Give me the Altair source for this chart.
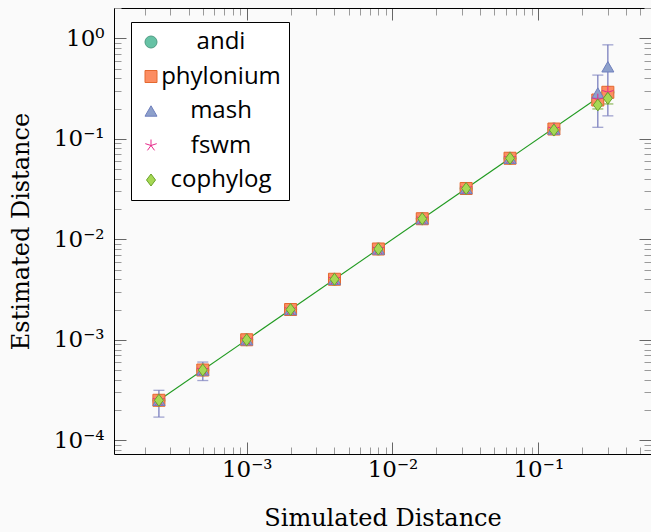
import json
import math
import altair as alt
import pandas as pd

# ---------------- data ----------------
methods = ["andi", "phylonium", "mash", "fswm", "cophylog"]
fill_colors = ["#66c2a5", "#fc8d62", "#8da0cb", "#e7298a", "#a6d854"]
stroke_colors = ["#4f9c83", "#e4682f", "#6f7fbd", "#e7298a", "#6aa32a"]

simulated = [0.00025, 0.0005, 0.001, 0.002, 0.004, 0.008, 0.016, 0.032, 0.064, 0.128, 0.256, 0.3]
andi_est = [0.00025, 0.0005, 0.001, 0.002, 0.004, 0.008, 0.016, 0.032, 0.064, 0.125, 0.243, 0.29]
phylonium_est = [0.00025, 0.0005, 0.001, 0.002, 0.004, 0.008, 0.016, 0.032, 0.064, 0.125, 0.243, 0.29]
mash_est = [0.00025, 0.0005, 0.001, 0.002, 0.004, 0.008, 0.016, 0.032, 0.064, 0.125, 0.285, 0.52]
fswm_est = [0.00025, 0.0005, 0.001, 0.002, 0.004, 0.008, 0.016, 0.032, 0.064, 0.125, 0.245, 0.29]
cophylog_est = [0.00025, 0.0005, 0.001, 0.002, 0.004, 0.008, 0.016, 0.032, 0.064, 0.122, 0.217, 0.253]

# error bars (visible ones)
err_method = ["mash", "mash", "mash", "mash", "cophylog", "cophylog"]
err_x = [0.00025, 0.0005, 0.256, 0.3, 0.256, 0.3]
err_lo = [0.00017, 0.000393, 0.13, 0.169, 0.198, 0.222]
err_hi = [0.000314, 0.0006, 0.43, 0.86, 0.235, 0.28]
err_colors = ["#7a7fbe", "#6aa32a"]

# reference line y = x
line_x = [0.00025, 0.256]

x_tick_values = [0.001, 0.01, 0.1]
x_tick_labels = ["10\u207b\u00b3", "10\u207b\u00b2", "10\u207b\u00b9"]
y_tick_values = [0.0001, 0.001, 0.01, 0.1, 1]
y_tick_labels = ["10\u207b\u2074", "10\u207b\u00b3", "10\u207b\u00b2", "10\u207b\u00b9", "10\u2070"]

x_domain = [1.23e-4, 0.593]
y_domain = [7.3e-5, 2.0]

# ---------------- tables ----------------
est = [andi_est, phylonium_est, mash_est, fswm_est, cophylog_est]
rows = []
for m, ys in zip(methods, est):
    for xv, yv in zip(simulated, ys):
        rows.append({"method": m, "sim": xv, "est": yv})
pts = pd.DataFrame(rows)

err = pd.DataFrame({"method": err_method, "sim": err_x, "lo": err_lo, "hi": err_hi})
caps = pd.concat([
    err[["method", "sim"]].assign(v=err["lo"]),
    err[["method", "sim"]].assign(v=err["hi"]),
])
line_df = pd.DataFrame({"sim": line_x, "est": line_x})

W, H = 537, 446

def minor_ticks(lo, hi):
    out = []
    e = -6
    while 10 ** e <= hi * 10:
        for k in range(1, 10):
            v = k * 10 ** e
            if lo <= v <= hi:
                out.append(float(f"{v:.6g}"))
        e += 1
    return out

x_all_ticks = minor_ticks(*x_domain)
y_all_ticks = minor_ticks(*y_domain)

MAJOR = "abs(log(datum.value)/LN10 - round(log(datum.value)/LN10)) < 0.001"
tick_size = {"condition": {"test": MAJOR, "value": 12}, "value": 7}
tick_color = {"condition": {"test": MAJOR, "value": "#666666"}, "value": "#9a9a9a"}

xscale = alt.Scale(type="log", domain=x_domain, nice=False)
yscale = alt.Scale(type="log", domain=y_domain, nice=False)

SERIF = "DejaVu Serif"

def lbl_expr(values, labels):
    e0 = round(math.log10(values[0]))
    return f"{json.dumps(labels, ensure_ascii=False)}[round(log(datum.value)/LN10) - ({e0})]"

x_label_axis = alt.Axis(values=x_tick_values, labelExpr=lbl_expr(x_tick_values, x_tick_labels),
                        ticks=False, domain=True, domainColor="black", domainWidth=1,
                        grid=False, labelFont=SERIF, labelFontSize=23, labelColor="black",
                        labelPadding=4, title="Simulated Distance", titleFont=SERIF,
                        titleFontSize=24, titleFontWeight="normal", titleColor="black",
                        titlePadding=25)
y_label_axis = alt.Axis(values=y_tick_values, labelExpr=lbl_expr(y_tick_values, y_tick_labels),
                        ticks=False, domain=True, domainColor="black", domainWidth=1,
                        grid=False, labelFont=SERIF, labelFontSize=23, labelColor="black",
                        labelPadding=10, title="Estimated Distance", titleFont=SERIF,
                        titleFontSize=24, titleFontWeight="normal", titleColor="black",
                        titlePadding=20)

def tick_axis(orient, offset, values, domain):
    kw = dict(orient=orient, offset=offset, values=values, labels=False, title=None,
              grid=False, domain=domain, tickSize=tick_size, tickColor=tick_color,
              tickWidth=1)
    if domain:
        kw.update(domainColor="black", domainWidth=1)
    return alt.Axis(**kw)

legend = alt.Legend(orient="none", legendX=17, legendY=14, title=None,
                    fillColor="white", strokeColor="black", padding=8,
                    labelFont="Open Sans", labelFontSize=24, labelColor="black",
                    labelAlign="center", labelOffset=58, symbolSize=144,
                    rowPadding=10.5, symbolStrokeWidth=1, symbolOpacity=1)

STAR = ("M0,0L0,-1M0,0L0.951,-0.309M0,0L0.588,0.809M0,0L-0.588,0.809"
        "M0,0L-0.951,-0.309")
DIAMOND = "M0,-1L0.75,0L0,1L-0.75,0Z"
shapes = ["circle", "square", "triangle-up", STAR, DIAMOND]

# ---------------- layers ----------------
errbars = alt.Chart(err).mark_rule(strokeWidth=1.3).encode(
    x=alt.X("sim:Q", scale=xscale, axis=tick_axis("top", -H, x_all_ticks, False)),
    y=alt.Y("lo:Q", scale=yscale, axis=tick_axis("right", -W, y_all_ticks, False)),
    y2="hi:Q",
    color=alt.Color("method:N", scale=alt.Scale(domain=["mash", "cophylog"], range=err_colors),
                    legend=None),
)

errcaps = alt.Chart(caps).mark_tick(orient="horizontal", size=11, thickness=1.3).encode(
    x=alt.X("sim:Q", scale=xscale, axis=tick_axis("bottom", -H, x_all_ticks, True)),
    y=alt.Y("v:Q", scale=yscale, axis=tick_axis("left", -W, y_all_ticks, False)),
    color=alt.Color("method:N", scale=alt.Scale(domain=["mash", "cophylog"], range=err_colors),
                    legend=None),
)

line = alt.Chart(line_df).mark_line(color="#1f9a1f", strokeWidth=1.1).encode(
    x=alt.X("sim:Q", scale=xscale, axis=None),
    y=alt.Y("est:Q", scale=yscale, axis=None),
)

points = alt.Chart(pts).mark_point(filled=True, opacity=1, strokeWidth=1, size=144).encode(
    x=alt.X("sim:Q", scale=xscale, axis=x_label_axis),
    y=alt.Y("est:Q", scale=yscale, axis=y_label_axis),
    fill=alt.Fill("method:N", scale=alt.Scale(domain=methods, range=fill_colors), legend=legend),
    stroke=alt.Stroke("method:N", scale=alt.Scale(domain=methods, range=stroke_colors), legend=legend),
    shape=alt.Shape("method:N", scale=alt.Scale(domain=methods, range=shapes), legend=legend),
)

chart = alt.layer(errbars, errcaps, line, points).resolve_axis(
    x="independent", y="independent"
).resolve_scale(color="independent").properties(
    width=W, height=H,
    autosize=alt.AutoSizeParams(type="none"),
    padding={"left": 114, "top": 8, "right": 0, "bottom": 532 - 8 - H},
    background="#fafafa",
).configure_view(stroke=None)

chart.save("out.html", embed_options={"renderer": "svg", "actions": False})
